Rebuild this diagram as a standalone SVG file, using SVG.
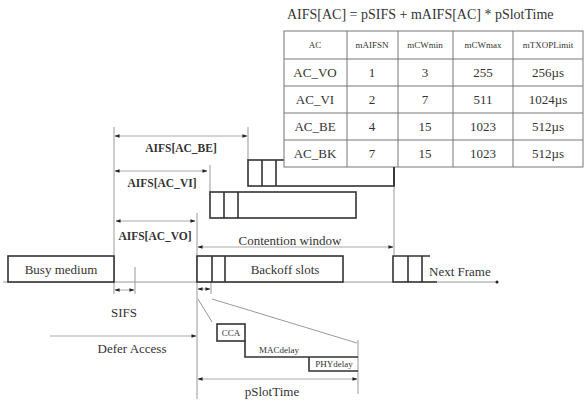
<svg xmlns="http://www.w3.org/2000/svg" width="584" height="401" viewBox="0 0 584 401" font-family="'Liberation Serif', 'Times New Roman', 'DejaVu Serif', serif">
<defs>
<marker id="ah" viewBox="0 0 6 6" refX="5.5" refY="3" markerWidth="5" markerHeight="5" orient="auto-start-reverse" markerUnits="userSpaceOnUse">
<path d="M0,0.8 L6,3 L0,5.2 Z" fill="#222"/>
</marker>
</defs>
<style>
text{font-family:'Liberation Serif','Times New Roman','DejaVu Serif',serif;fill:#333;}
.t{font-size:13px;}
.ti{font-size:14px;}
.h{font-size:9px;}
.b{font-size:11.5px;font-weight:bold;}
.s{font-size:9px;}
.box{fill:#fff;stroke:#333;stroke-width:1.6;}
.bl{fill:none;stroke:#333;stroke-width:1.6;}
.g{fill:none;stroke:#999;stroke-width:1;}
.a{fill:none;stroke:#aaa;stroke-width:1;marker-start:url(#ah);marker-end:url(#ah);}
.a1{fill:none;stroke:#aaa;stroke-width:1;marker-end:url(#ah);}
.tb{fill:#fff;stroke:#777;stroke-width:1;}
.tl{stroke:#777;stroke-width:1;}
</style>
<rect width="584" height="401" fill="#fff"/>

<g id="connectors">
<line class="g" x1="114" y1="127" x2="114" y2="294"/>
<line class="g" x1="248" y1="127" x2="248" y2="160"/>
<line class="g" x1="210" y1="165" x2="210" y2="192"/>
<line class="g" x1="197" y1="213" x2="197" y2="399"/>
<line class="g" x1="394" y1="186" x2="394" y2="255"/>
<line class="g" x1="135" y1="267" x2="135" y2="294"/>
<line class="g" x1="211" y1="282" x2="211" y2="294"/>
<line class="g" x1="3" y1="282" x2="496" y2="282"/>
<circle cx="497" cy="282" r="1.5" fill="#222"/>
<line class="a" x1="115" y1="136" x2="247" y2="136"/>
<line class="a" x1="115" y1="171" x2="207" y2="171"/>
<line class="a" x1="116" y1="221" x2="195" y2="221"/>
<line class="a" x1="198" y1="247" x2="393" y2="247"/>
<line class="a" x1="115" y1="290" x2="134" y2="290"/>
<line class="a" x1="198" y1="289" x2="210" y2="289"/>
<line class="a1" x1="50" y1="336" x2="196" y2="336"/>
<line class="a" x1="198" y1="379" x2="357" y2="379"/>
<line class="g" x1="198" y1="299" x2="212" y2="322"/>
<line class="g" x1="212" y1="299" x2="357" y2="343"/>
<line class="g" x1="358" y1="340" x2="358" y2="394"/>
</g>

<g id="formula">
<text class="ti" x="287" y="19">AIFS[AC] = pSIFS + mAIFS[AC] * pSlotTime</text>
</g>

<g id="slots-be">
<rect class="box" x="248" y="160" width="146" height="26"/>
<line class="bl" x1="262" y1="160" x2="262" y2="186"/>
<line class="bl" x1="276" y1="160" x2="276" y2="186"/>
</g>

<g id="table">
<rect class="tb" x="284" y="31" width="299" height="136"/>
<line class="tl" x1="284" y1="59" x2="583" y2="59"/>
<line class="tl" x1="284" y1="86" x2="583" y2="86"/>
<line class="tl" x1="284" y1="113" x2="583" y2="113"/>
<line class="tl" x1="284" y1="140" x2="583" y2="140"/>
<line class="tl" x1="347" y1="31" x2="347" y2="167"/>
<line class="tl" x1="398" y1="31" x2="398" y2="167"/>
<line class="tl" x1="453" y1="31" x2="453" y2="167"/>
<line class="tl" x1="513" y1="31" x2="513" y2="167"/>
<g text-anchor="middle">
<text class="h" x="315" y="48">AC</text>
<text class="h" x="372" y="48">mAIFSN</text>
<text class="h" x="425" y="48">mCWmin</text>
<text class="h" x="483" y="48">mCWmax</text>
<text class="h" x="548" y="48">mTXOPLimit</text>
<text class="t" x="315" y="77">AC_VO</text>
<text class="t" x="372" y="77">1</text>
<text class="t" x="425" y="77">3</text>
<text class="t" x="483" y="77">255</text>
<text class="t" x="548" y="77">256µs</text>
<text class="t" x="315" y="104">AC_VI</text>
<text class="t" x="372" y="104">2</text>
<text class="t" x="425" y="104">7</text>
<text class="t" x="483" y="104">511</text>
<text class="t" x="548" y="104">1024µs</text>
<text class="t" x="315" y="131">AC_BE</text>
<text class="t" x="372" y="131">4</text>
<text class="t" x="425" y="131">15</text>
<text class="t" x="483" y="131">1023</text>
<text class="t" x="548" y="131">512µs</text>
<text class="t" x="315" y="158">AC_BK</text>
<text class="t" x="372" y="158">7</text>
<text class="t" x="425" y="158">15</text>
<text class="t" x="483" y="158">1023</text>
<text class="t" x="548" y="158">512µs</text>
</g>
</g>
<line class="bl" x1="394" y1="167" x2="394" y2="186"/>

<g id="slots-vi">
<rect class="box" x="210" y="192" width="146" height="26"/>
<line class="bl" x1="224" y1="192" x2="224" y2="218"/>
<line class="bl" x1="238" y1="192" x2="238" y2="218"/>
</g>

<g id="busy-medium">
<rect class="box" x="8" y="256" width="106" height="26"/>
<text class="t" x="61" y="274" text-anchor="middle">Busy medium</text>
</g>

<g id="backoff-slots">
<rect class="box" x="197" y="256" width="146" height="26"/>
<line class="bl" x1="212" y1="256" x2="212" y2="282"/>
<line class="bl" x1="225" y1="256" x2="225" y2="282"/>
<text class="t" x="285" y="274" text-anchor="middle">Backoff slots</text>
</g>

<g id="next-frame">
<polyline class="bl" points="430,256 393,256 393,282 437,282"/>
<line class="bl" x1="408" y1="256" x2="408" y2="282"/>
<line class="bl" x1="422" y1="256" x2="422" y2="282"/>
<text class="t" x="429" y="276">Next Frame</text>
</g>

<g id="labels">
<text class="b" x="181" y="152" text-anchor="middle">AIFS[AC_BE]</text>
<text class="b" x="162" y="187" text-anchor="middle">AIFS[AC_VI]</text>
<text class="b" x="155" y="240" text-anchor="middle">AIFS[AC_VO]</text>
<text class="t" x="290" y="245" text-anchor="middle">Contention window</text>
<text class="t" x="124" y="317" text-anchor="middle">SIFS</text>
<text class="t" x="132" y="353" text-anchor="middle">Defer Access</text>
<text class="t" x="272" y="396" text-anchor="middle">pSlotTime</text>
</g>

<g id="slot-breakdown">
<rect class="box" x="217" y="324" width="28" height="17" stroke-width="1.2"/>
<text class="s" x="231" y="336" text-anchor="middle">CCA</text>
<polyline class="bl" stroke-width="1.2" points="245,341 245,357 358,357"/>
<text class="s" x="279" y="353" text-anchor="middle">MACdelay</text>
<polyline class="bl" stroke-width="1.2" points="309,357 309,371 358,371"/>
<text class="s" x="334" y="367" text-anchor="middle">PHYdelay</text>
</g>
</svg>
